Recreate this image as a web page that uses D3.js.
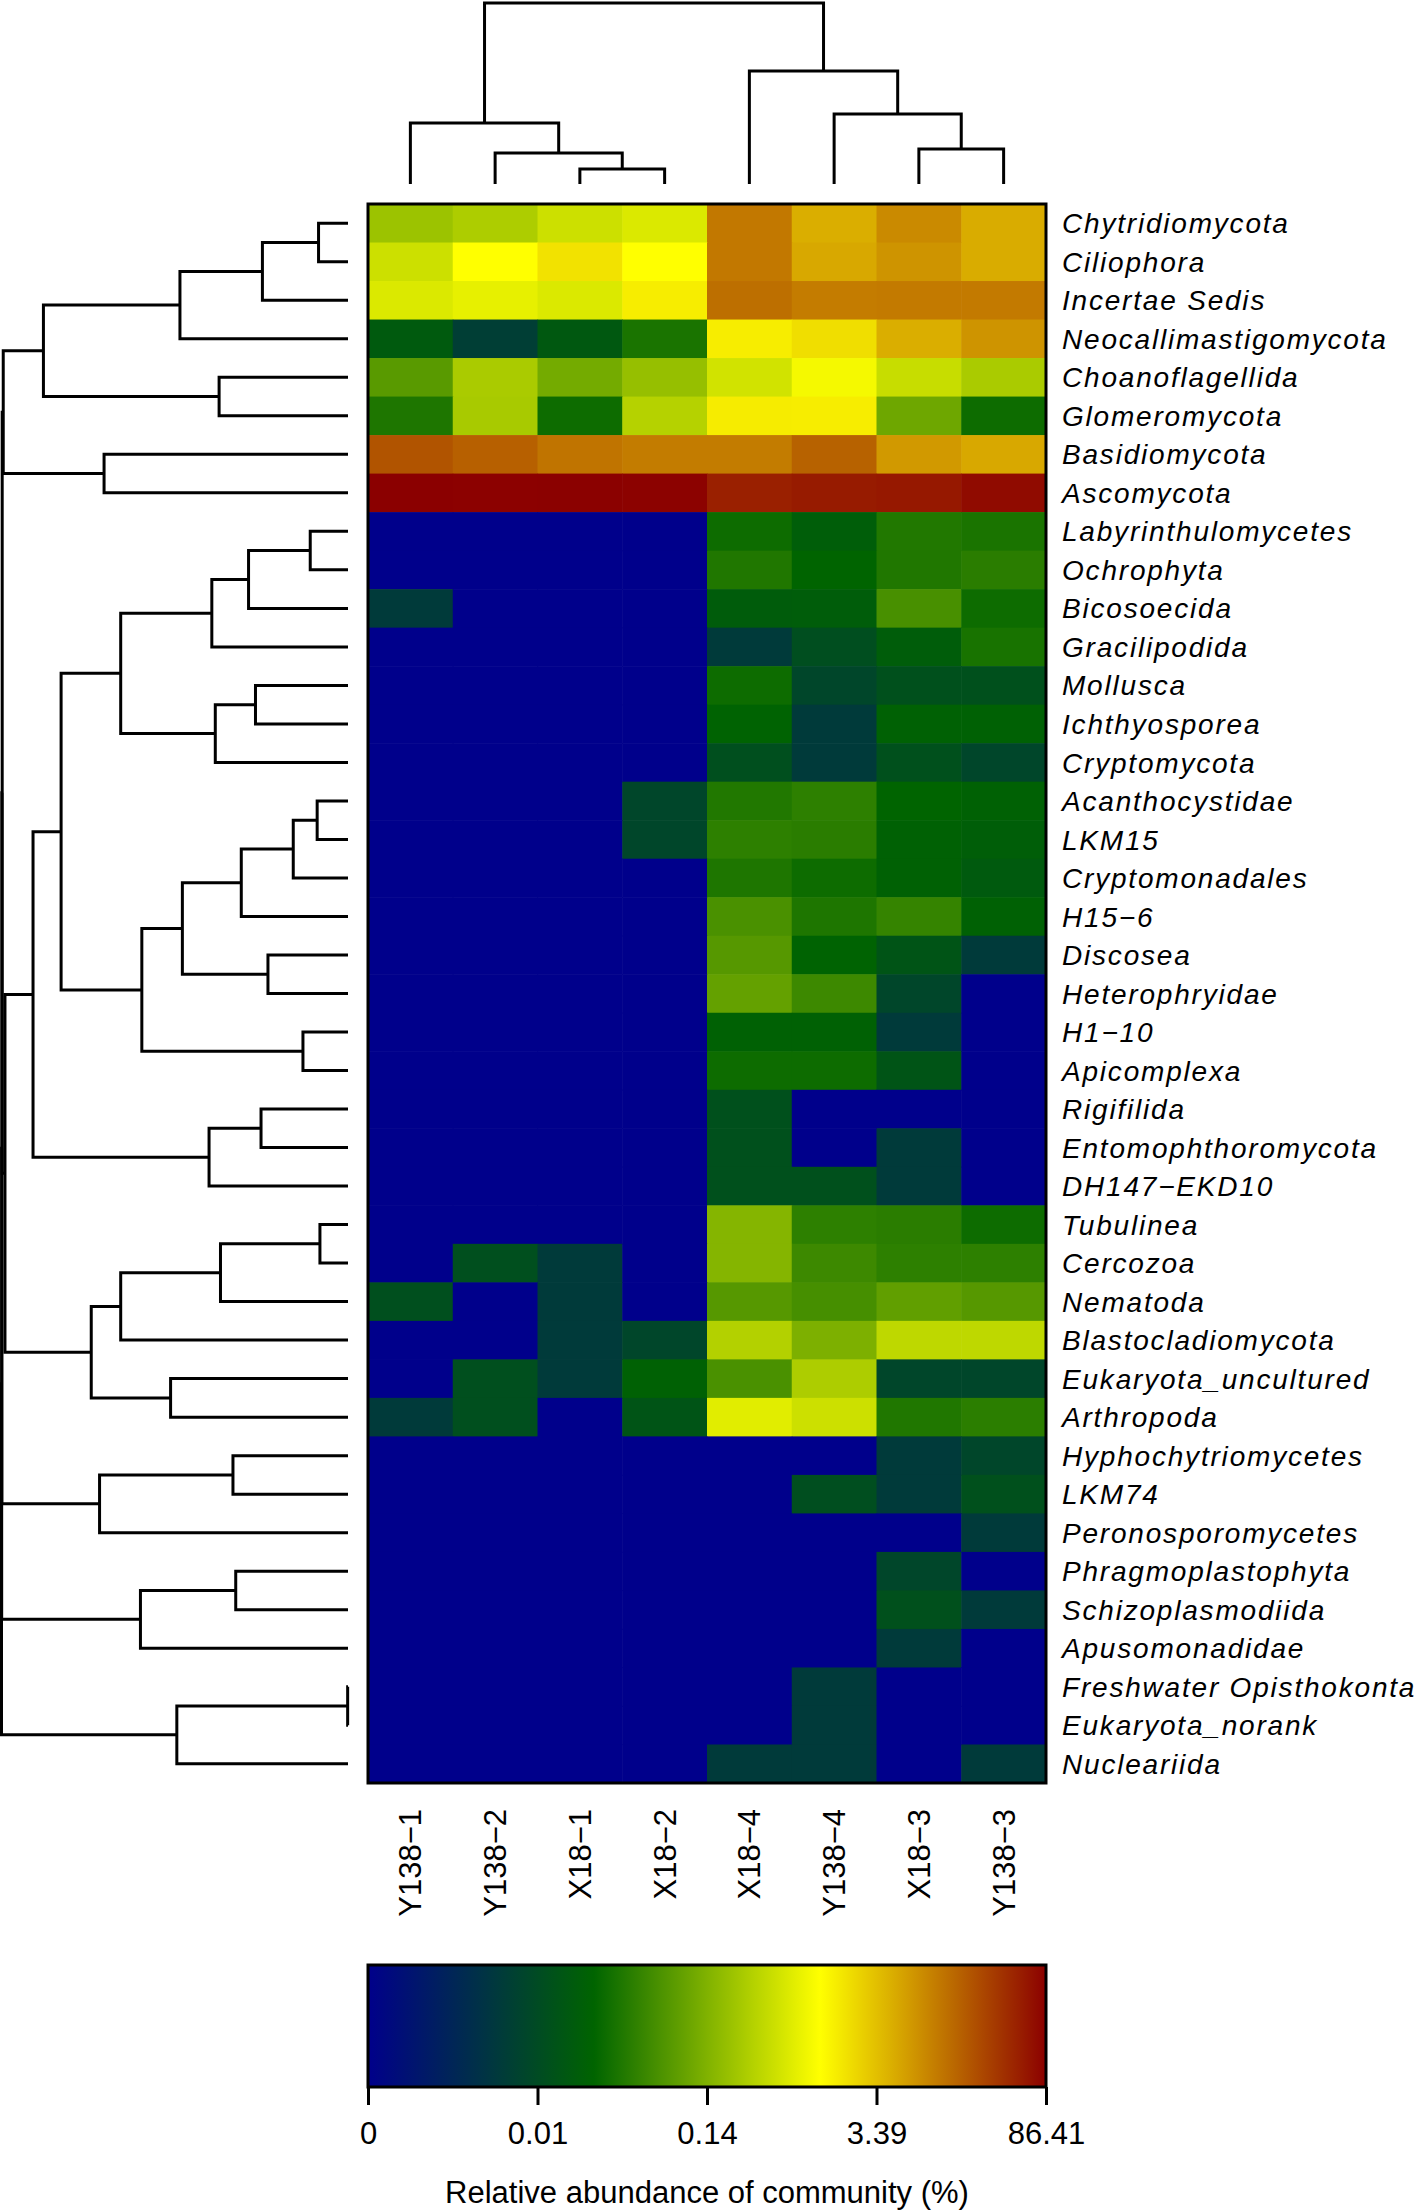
<!DOCTYPE html>
<html>
<head>
<meta charset="utf-8">
<script src="https://cdn.jsdelivr.net/npm/d3@7"></script>
<style>
  body { margin: 0; background: #fff; }
  svg { display: block; }
</style>
</head>
<body>
<svg id="chart" width="1417" height="2211"></svg>
<script>
// samples in dendrogram order
const samples = ["Y138-1", "Y138-2", "X18-1", "X18-2", "X18-4", "Y138-4", "X18-3", "Y138-3"];

const taxa = [
  "Chytridiomycota", "Ciliophora", "Incertae Sedis", "Neocallimastigomycota", "Choanoflagellida",
  "Glomeromycota", "Basidiomycota", "Ascomycota", "Labyrinthulomycetes", "Ochrophyta",
  "Bicosoecida", "Gracilipodida", "Mollusca", "Ichthyosporea", "Cryptomycota",
  "Acanthocystidae", "LKM15", "Cryptomonadales", "H15-6", "Discosea",
  "Heterophryidae", "H1-10", "Apicomplexa", "Rigifilida", "Entomophthoromycota",
  "DH147-EKD10", "Tubulinea", "Cercozoa", "Nematoda", "Blastocladiomycota",
  "Eukaryota_uncultured", "Arthropoda", "Hyphochytriomycetes", "LKM74", "Peronosporomycetes",
  "Phragmoplastophyta", "Schizoplasmodiida", "Apusomonadidae", "Freshwater Opisthokonta", "Eukaryota_norank",
  "Nucleariida"
];

// relative abundance (%), one row per taxon, columns follow `samples`
const abundance = [
  [0.225, 0.301, 0.502, 0.647, 11.3, 4.57, 8.40, 4.69],
  [0.502, 1.18, 1.89, 1.18, 11.3, 5.00, 7.10, 4.69],
  [0.647, 0.784, 0.647, 1.58, 13.2, 10.5, 10.9, 10.9],
  [0.0173, 0.0063, 0.0164, 0.0352, 1.58, 2.04, 4.57, 7.10],
  [0.0836, 0.286, 0.120, 0.205, 0.549, 0.986, 0.459, 0.286],
  [0.0375, 0.276, 0.0295, 0.342, 1.62, 1.58, 0.110, 0.0295],
  [20.8, 16.9, 12.1, 10.6, 10.6, 16.5, 6.48, 5.00],
  [86.41, 84.5, 85.6, 83.9, 50.2, 55.0, 57.1, 71.2],
  [0, 0, 0, 0, 0.0295, 0.0199, 0.0391, 0.0352],
  [0, 0, 0, 0, 0.0383, 0.0246, 0.0383, 0.0439],
  [0.0054, 0, 0, 0, 0.0186, 0.0192, 0.0659, 0.0295],
  [0, 0, 0, 0, 0.0054, 0.0112, 0.0192, 0.0345],
  [0, 0, 0, 0, 0.0295, 0.0083, 0.0120, 0.0120],
  [0, 0, 0, 0, 0.0238, 0.0054, 0.0226, 0.0226],
  [0, 0, 0, 0, 0.0114, 0.0054, 0.0120, 0.0083],
  [0, 0, 0, 0.0083, 0.0391, 0.0462, 0.0246, 0.0226],
  [0, 0, 0, 0.0083, 0.0462, 0.0439, 0.0226, 0.0203],
  [0, 0, 0, 0, 0.0375, 0.0295, 0.0226, 0.0173],
  [0, 0, 0, 0, 0.0679, 0.0375, 0.0513, 0.0226],
  [0, 0, 0, 0, 0.0802, 0.0238, 0.0139, 0.0054],
  [0, 0, 0, 0, 0.0966, 0.0570, 0.0083, 0],
  [0, 0, 0, 0, 0.0226, 0.0226, 0.0054, 0],
  [0, 0, 0, 0, 0.0295, 0.0295, 0.0139, 0],
  [0, 0, 0, 0, 0.0120, 0, 0, 0],
  [0, 0, 0, 0, 0.0120, 0, 0.0054, 0],
  [0, 0, 0, 0, 0.0120, 0.0120, 0.0054, 0],
  [0, 0, 0, 0, 0.153, 0.0462, 0.0439, 0.0295],
  [0, 0.0114, 0.0054, 0, 0.153, 0.0570, 0.0462, 0.0462],
  [0.0114, 0, 0.0054, 0, 0.0802, 0.0645, 0.0927, 0.0802],
  [0, 0, 0.0054, 0.0083, 0.329, 0.136, 0.399, 0.399],
  [0, 0.0114, 0.0054, 0.0226, 0.0679, 0.301, 0.0083, 0.0083],
  [0.0054, 0.0114, 0, 0.0139, 0.708, 0.502, 0.0383, 0.0448],
  [0, 0, 0, 0, 0, 0, 0.0054, 0.0083],
  [0, 0, 0, 0, 0, 0.0112, 0.0054, 0.0120],
  [0, 0, 0, 0, 0, 0, 0, 0.0054],
  [0, 0, 0, 0, 0, 0, 0.0083, 0],
  [0, 0, 0, 0, 0, 0, 0.0120, 0.0054],
  [0, 0, 0, 0, 0, 0, 0.0054, 0],
  [0, 0, 0, 0, 0, 0.0054, 0, 0],
  [0, 0, 0, 0, 0, 0.0054, 0, 0],
  [0, 0, 0, 0, 0.0054, 0.0054, 0, 0.0054]
];

// hclust-style merges: negative = leaf (1-based), positive = earlier merge; [a, b, height]
const colMerge = [
  [-3, -4, 0.83], [-2, 1, 1.71], [-1, 2, 3.37],
  [-7, -8, 1.93], [-6, 4, 3.87], [-5, 5, 6.24],
  [3, 6, 10]
];

const rowMerge = [
  [-1, -2, 0.85], [1, -3, 2.47], [2, -4, 4.85], [-5, -6, 3.72], [3, 4, 8.79],
  [-7, -8, 7.04], [5, 6, 9.95],
  [-9, -10, 1.09], [8, -11, 2.87], [9, -12, 3.93], [-13, -14, 2.67], [11, -15, 3.83], [10, 12, 6.56],
  [-16, -17, 0.89], [14, -18, 1.58], [15, -19, 3.08], [-20, -21, 2.31], [16, 17, 4.78],
  [-22, -23, 1.30], [18, 19, 5.95], [13, 20, 8.28],
  [-24, -25, 2.51], [22, -26, 4.01], [21, 23, 9.09],
  [-27, -28, 0.81], [25, -29, 3.68], [26, -30, 6.56], [-31, -32, 5.12], [27, 28, 7.41],
  [24, 29, 9.90], [7, 30, 9.98],
  [-33, -34, 3.32], [32, -35, 7.17], [31, 33, 9.99],
  [-36, -37, 3.24], [35, -38, 5.99], [34, 36, 9.995],
  [-39, -40, 0.01], [38, -41, 4.94], [37, 39, 10]
];

const keyTicks = [0, 0.01, 0.14, 3.39, 86.41];
const keyColors = ["#00008B", "#006400", "#FFFF00", "#8B0000"];
const keyTitle = "Relative abundance of community (%)";

const svg = d3.select("#chart");
const font = "'Liberation Sans', Arial, Helvetica, sans-serif";
const minus = s => s.replace(/-/g, "\u2212");

const heat = {left: 368, right: 1046, top: 204, bottom: 1783};

const x = d3.scaleBand().domain(samples).range([heat.left, heat.right]);
const y = d3.scaleBand().domain(taxa).range([heat.top, heat.bottom]);

// value -> position on the key (log-ish spacing between the key ticks)
const tf = v => Math.log10(v + 0.001);
const keyPos = d3.scaleLinear()
  .domain(keyTicks.map(tf))
  .range([0, 0.25, 0.5, 0.75, 1])
  .clamp(true);
const color = d3.scaleLinear().domain([0, 1 / 3, 2 / 3, 1]).range(keyColors);

// heatmap cells
const cells = [];
abundance.forEach((row, i) => row.forEach((v, j) => cells.push({taxon: taxa[i], sample: samples[j], v})));

svg.append("g")
  .selectAll("rect")
  .data(cells)
  .join("rect")
  .attr("x", d => x(d.sample))
  .attr("y", d => y(d.taxon))
  .attr("width", x.bandwidth() + 0.6)
  .attr("height", y.bandwidth() + 0.6)
  .attr("fill", d => color(keyPos(tf(d.v))));

svg.append("rect")
  .attr("x", heat.left).attr("y", heat.top)
  .attr("width", heat.right - heat.left).attr("height", heat.bottom - heat.top)
  .attr("fill", "none").attr("stroke", "#000").attr("stroke-width", 3);

// dendrograms
function buildTree(merge, leaves) {
  const nodes = [];
  const get = k => k < 0 ? {name: leaves[-k - 1], height: 0} : nodes[k - 1];
  merge.forEach(([a, b, h]) => nodes.push({height: h, children: [get(a), get(b)]}));
  return d3.hierarchy(nodes[nodes.length - 1]);
}

function drawDendro(root, band, hScale, horizontal) {
  root.eachAfter(n => {
    n.pos = n.children ? d3.mean(n.children, c => c.pos) : band(n.data.name) + band.bandwidth() / 2;
  });
  const pt = (p, h) => horizontal ? [hScale(h), p] : [p, hScale(h)];
  const paths = [];
  root.each(n => {
    if (!n.children) return;
    const [a, b] = n.children;
    const path = d3.path();
    path.moveTo(...pt(a.pos, a.data.height));
    path.lineTo(...pt(a.pos, n.data.height));
    path.lineTo(...pt(b.pos, n.data.height));
    path.lineTo(...pt(b.pos, b.data.height));
    paths.push(path.toString());
  });
  svg.append("g")
    .selectAll("path")
    .data(paths)
    .join("path")
    .attr("d", d => d)
    .attr("fill", "none")
    .attr("stroke", "#000")
    .attr("stroke-width", 3);
}

const colTree = buildTree(colMerge, samples);
const rowTree = buildTree(rowMerge, taxa);
drawDendro(colTree, x, d3.scaleLinear().domain([0, 10]).range([184, 3]), false);
drawDendro(rowTree, y, d3.scaleLinear().domain([0, 10]).range([348, 1.5]), true);

// row labels
svg.append("g")
  .selectAll("text")
  .data(taxa)
  .join("text")
  .attr("x", heat.right + 16)
  .attr("y", d => y(d) + y.bandwidth() / 2)
  .attr("dy", "0.36em")
  .attr("font-family", font)
  .attr("font-style", "italic")
  .attr("font-size", 28)
  .attr("letter-spacing", 1.8)
  .text(d => minus(d));

// column labels
svg.append("g")
  .selectAll("text")
  .data(samples)
  .join("text")
  .attr("transform", d => `translate(${x(d) + x.bandwidth() / 2 + 11},${heat.bottom + 26}) rotate(-90)`)
  .attr("text-anchor", "end")
  .attr("font-family", font)
  .attr("font-size", 31)
  .text(d => minus(d));

// colour key
const key = {left: heat.left, right: heat.right, top: 1965, bottom: 2087};
const keyX = d3.scaleLinear().domain([0, 1]).range([key.left, key.right]);

const grad = svg.append("defs").append("linearGradient")
  .attr("id", "keyGrad")
  .attr("x1", "0%").attr("x2", "100%").attr("y1", "0%").attr("y2", "0%");
grad.selectAll("stop")
  .data(d3.range(0, 1.0001, 1 / 30))
  .join("stop")
  .attr("offset", d => `${d * 100}%`)
  .attr("stop-color", d => color(d));

svg.append("rect")
  .attr("x", key.left).attr("y", key.top)
  .attr("width", key.right - key.left).attr("height", key.bottom - key.top)
  .attr("fill", "url(#keyGrad)")
  .attr("stroke", "#000").attr("stroke-width", 3);

const keyAxis = svg.append("g")
  .attr("transform", `translate(0,${key.bottom})`)
  .call(d3.axisBottom(keyX)
    .tickValues(keyTicks.map(v => keyPos(tf(v))))
    .tickFormat((d, i) => String(keyTicks[i]))
    .tickSize(18)
    .tickPadding(17));
keyAxis.select(".domain").remove();
keyAxis.selectAll(".tick line").attr("stroke", "#000").attr("stroke-width", 3);
keyAxis.selectAll(".tick text")
  .attr("fill", "#000")
  .attr("font-family", font)
  .attr("font-size", 31);

svg.append("text")
  .attr("x", (key.left + key.right) / 2)
  .attr("y", 2203)
  .attr("text-anchor", "middle")
  .attr("font-family", font)
  .attr("font-size", 31)
  .text(keyTitle);
</script>
</body>
</html>
